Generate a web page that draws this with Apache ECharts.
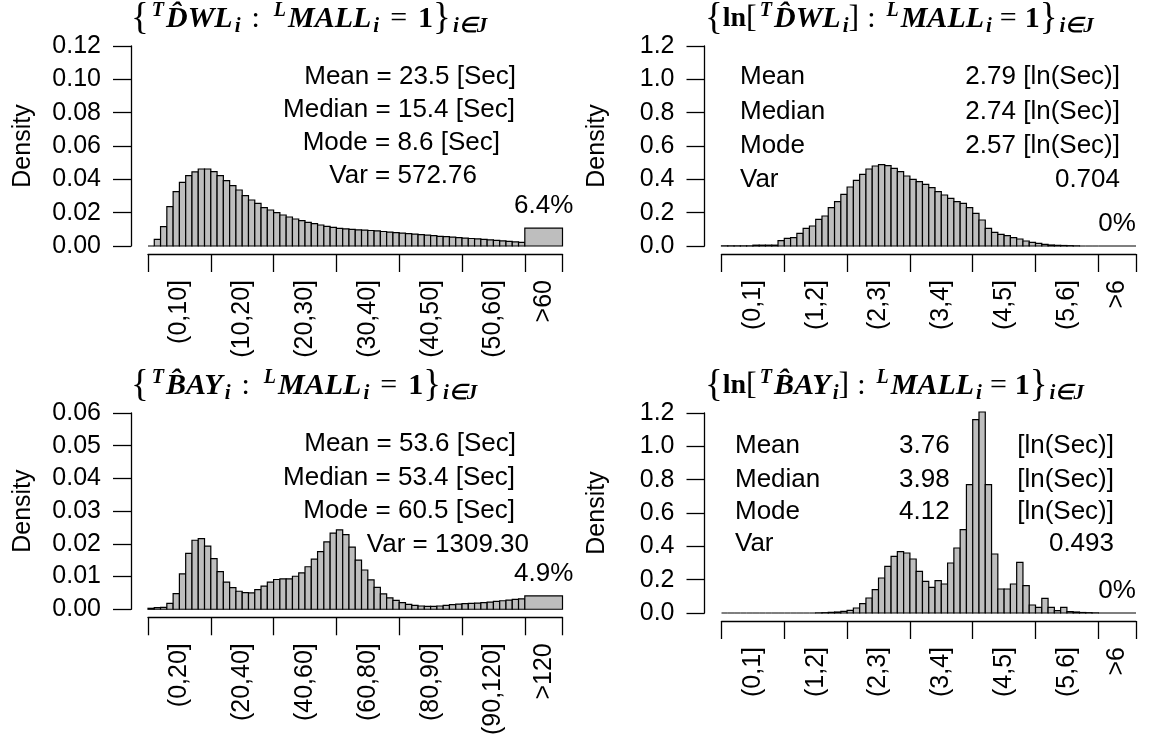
<!DOCTYPE html>
<html>
<head>
<meta charset="utf-8">
<script src="https://cdn.jsdelivr.net/npm/echarts@6/dist/echarts.min.js"></script>
<style>
  html, body { margin: 0; padding: 0; background: #fff; }
  #chart { width: 1149px; height: 738px; }
</style>
</head>
<body>
<div id="chart"></div>
<script>
// ---------- data ----------
// Densities of the 60 regular bins of each histogram (left to right).
const dwlDensity = [
  0.0000, 0.0040, 0.0116, 0.0236, 0.0326, 0.0382, 0.0422, 0.0445, 0.0462, 0.0462,
  0.0446, 0.0422, 0.0392, 0.0362, 0.0336, 0.0302, 0.0276, 0.0256, 0.0230, 0.0216,
  0.0200, 0.0186, 0.0174, 0.0162, 0.0152, 0.0142, 0.0134, 0.0126, 0.0118, 0.0112,
  0.0106, 0.0103, 0.0100, 0.0097, 0.0095, 0.0093, 0.0091, 0.0087, 0.0083, 0.0080,
  0.0077, 0.0074, 0.0071, 0.0068, 0.0065, 0.0062, 0.0058, 0.0056, 0.0053, 0.0050,
  0.0047, 0.0045, 0.0043, 0.0040, 0.0037, 0.0034, 0.0031, 0.0028, 0.0025, 0.0022
];
const dwlOverPct = 6.4;

const lnDwlDensity = [
  0.001, 0.001, 0.001, 0.001, 0.001, 0.005, 0.005, 0.005, 0.005, 0.032,
  0.046, 0.050, 0.076, 0.106, 0.120, 0.160, 0.180, 0.230, 0.266, 0.310,
  0.354, 0.394, 0.430, 0.462, 0.480, 0.488, 0.482, 0.466, 0.446, 0.420,
  0.400, 0.386, 0.370, 0.350, 0.326, 0.306, 0.286, 0.266, 0.256, 0.230,
  0.196, 0.156, 0.106, 0.082, 0.070, 0.062, 0.050, 0.042, 0.030, 0.022,
  0.016, 0.010, 0.006, 0.004, 0.003, 0.002, 0.001, 0.000, 0.000, 0.000
];
const lnDwlOverPct = 0;

const bayDensity = [
  0.0003, 0.0005, 0.0006, 0.0018, 0.0048, 0.0108, 0.0171, 0.0211, 0.0216, 0.0193,
  0.0155, 0.0115, 0.0083, 0.0066, 0.0055, 0.0051, 0.0050, 0.0060, 0.0071, 0.0083,
  0.0091, 0.0093, 0.0093, 0.0101, 0.0111, 0.0130, 0.0153, 0.0176, 0.0206, 0.0233,
  0.0243, 0.0228, 0.0190, 0.0150, 0.0120, 0.0090, 0.0067, 0.0047, 0.0035, 0.0027,
  0.0020, 0.0015, 0.0012, 0.0010, 0.0009, 0.0009, 0.0010, 0.0012, 0.0014, 0.0016,
  0.0017, 0.0018, 0.0019, 0.0020, 0.0022, 0.0024, 0.0026, 0.0028, 0.0030, 0.0032
];
const bayOverPct = 4.9;

const lnBayDensity = [
  0.000, 0.000, 0.000, 0.000, 0.000, 0.000, 0.000, 0.000, 0.000, 0.000,
  0.000, 0.000, 0.000, 0.000, 0.000, 0.001, 0.002, 0.004, 0.006, 0.010,
  0.016, 0.030, 0.056, 0.090, 0.140, 0.210, 0.280, 0.340, 0.368, 0.360,
  0.324, 0.250, 0.190, 0.154, 0.194, 0.174, 0.300, 0.390, 0.500, 0.770,
  1.160, 1.206, 0.770, 0.354, 0.144, 0.144, 0.174, 0.304, 0.164, 0.048,
  0.034, 0.088, 0.034, 0.014, 0.034, 0.008, 0.006, 0.003, 0.002, 0.001
];
const lnBayOverPct = 0;

// Category labels under each x axis.
const dwlTickLabels = ['(0,10]', '(10,20]', '(20,30]', '(30,40]', '(40,50]', '(50,60]', '>60'];
const lnTickLabels  = ['(0,1]', '(1,2]', '(2,3]', '(3,4]', '(4,5]', '(5,6]', '>6'];
const bayTickLabels = ['(0,20]', '(20,40]', '(40,60]', '(60,80]', '(80,90]', '(90,120]', '>120'];

// Summary statistics printed inside the panels.
const dwlStats = ['Mean = 23.5 [Sec]', 'Median = 15.4 [Sec]', 'Mode = 8.6 [Sec]', 'Var = 572.76'];
const bayStats = ['Mean = 53.6 [Sec]', 'Median = 53.4 [Sec]', 'Mode = 60.5 [Sec]', 'Var = 1309.30'];
const statNames = ['Mean', 'Median', 'Mode', 'Var'];
const lnDwlStatValues = ['2.79 [ln(Sec)]', '2.74 [ln(Sec)]', '2.57 [ln(Sec)]', '0.704'];
const lnBayStatNumbers = ['3.76', '3.98', '4.12'];
const lnBayStatUnit = '[ln(Sec)]';
const lnBayVar = '0.493';

// ---------- drawing ----------
const FONT = '"Liberation Sans", Arial, Helvetica, sans-serif';
const SERIF = '"Liberation Serif", "Times New Roman", serif';
const BLACK = '#000';
const r6 = v => Math.round(v * 1e6) / 1e6;

const panels = [
  { density: dwlDensity,   overPct: dwlOverPct,   binWidth: 1,   yMax: 0.12, yStep: 0.02, yDigits: 2, labels: dwlTickLabels, left: 148,   top: 46 },
  { density: lnDwlDensity, overPct: lnDwlOverPct, binWidth: 0.1, yMax: 1.2,  yStep: 0.2,  yDigits: 1, labels: lnTickLabels,  left: 721.5, top: 46 },
  { density: bayDensity,   overPct: bayOverPct,   binWidth: 2,   yMax: 0.06, yStep: 0.01, yDigits: 2, labels: bayTickLabels, left: 148,   top: 413 },
  { density: lnBayDensity, overPct: lnBayOverPct, binWidth: 0.1, yMax: 1.2,  yStep: 0.2,  yDigits: 1, labels: lnTickLabels,  left: 721.5, top: 413 }
];
const PLOT_W = 414.5, PLOT_H = 200;

const grids = [], xAxes = [], yAxes = [], series = [];

panels.forEach((p, i) => {
  const w = p.binWidth;
  const tickVals = [0, 1, 2, 3, 4, 5, 6].map(k => r6(k * 10 * w)).concat([r6(66 * w)]);
  const labelVals = [0, 1, 2, 3, 4, 5].map(k => r6((k + 0.5) * 10 * w)).concat([r6(63 * w)]);

  const data = p.density.map((d, k) => [r6(k * w), r6((k + 1) * w), d]);
  data.push([r6(60 * w), r6(66 * w), p.overPct / 100 / (6 * w)]);

  grids.push({ left: p.left, top: p.top, width: PLOT_W, height: PLOT_H, containLabel: false });

  xAxes.push({
    gridIndex: i, type: 'value', min: 0, max: r6(66 * w), offset: 8,
    axisLine: { show: true, onZero: false, lineStyle: { color: BLACK, width: 1.3 } },
    axisTick: { show: true, length: 18, customValues: tickVals, lineStyle: { color: BLACK, width: 1.3 } },
    axisLabel: {
      show: true, customValues: labelVals, rotate: 90, margin: 26,
      fontSize: 25, color: BLACK, fontFamily: FONT,
      formatter: v => {
        const idx = labelVals.findIndex(q => Math.abs(q - v) < 1e-6);
        return idx >= 0 ? p.labels[idx] : '';
      }
    },
    splitLine: { show: false }
  });

  yAxes.push({
    gridIndex: i, type: 'value', min: 0, max: p.yMax, interval: p.yStep, offset: 17,
    name: 'Density', nameLocation: 'middle', nameGap: 95,
    nameTextStyle: { fontSize: 25, color: BLACK, fontFamily: FONT },
    axisLine: { show: true, onZero: false, lineStyle: { color: BLACK, width: 1.3 } },
    axisTick: { show: true, length: 18, lineStyle: { color: BLACK, width: 1.3 } },
    axisLabel: { margin: 30, fontSize: 25, color: BLACK, fontFamily: FONT, formatter: v => v.toFixed(p.yDigits) },
    splitLine: { show: false }
  });

  series.push({
    type: 'custom', xAxisIndex: i, yAxisIndex: i, clip: false,
    encode: { x: [0, 1], y: 2 },
    data: data,
    renderItem: (params, api) => {
      const x0 = api.value(0), x1 = api.value(1), h = api.value(2);
      const pBase = api.coord([x0, 0]);
      const pTop = api.coord([x1, h]);
      const rect = {
        type: 'rect',
        shape: { x: pBase[0], y: pTop[1], width: pTop[0] - pBase[0], height: pBase[1] - pTop[1] },
        style: { fill: '#BEBEBE', stroke: BLACK, lineWidth: 1.2 }
      };
      if (params.dataIndex !== data.length - 1) return rect;
      return {
        type: 'group',
        children: [rect, {
          type: 'text',
          style: {
            text: p.overPct + '%', x: (pBase[0] + pTop[0]) / 2, y: pTop[1] - 22,
            align: 'center', verticalAlign: 'middle',
            fontSize: 26, fontFamily: FONT, fill: BLACK
          }
        }]
      };
    }
  });
});

// Set-builder titles written with rich text.
const titleRich = {
  m:    { fontFamily: SERIF, fontSize: 30, fontWeight: 'bold', fontStyle: 'italic', fill: BLACK, verticalAlign: 'middle' },
  sup:  { fontFamily: SERIF, fontSize: 20, fontWeight: 'bold', fontStyle: 'italic', fill: BLACK, verticalAlign: 'top', padding: [0, 2, 0, 3] },
  sub:  { fontFamily: SERIF, fontSize: 21, fontWeight: 'bold', fontStyle: 'italic', fill: BLACK, verticalAlign: 'bottom', padding: [0, 0, 0, 2] },
  op:   { fontFamily: SERIF, fontSize: 30, fill: BLACK, verticalAlign: 'middle', padding: [0, 11, 0, 11] },
  opn:  { fontFamily: SERIF, fontSize: 30, fill: BLACK, verticalAlign: 'middle', padding: [0, 8, 0, 8] },
  one:  { fontFamily: SERIF, fontSize: 30, fontWeight: 'bold', fill: BLACK, verticalAlign: 'middle' },
  ln:   { fontFamily: SERIF, fontSize: 28, fontWeight: 'bold', fill: BLACK, verticalAlign: 'middle' },
  bk:   { fontFamily: SERIF, fontSize: 32, fill: BLACK, verticalAlign: 'middle' }
};
function titleText(name, withLn) {
  const inner = '{sup|T}{m|' + name + '}{sub|i}';
  const core = withLn ? '{ln|ln}{bk|[}' + inner + '{bk|]}' : inner;
  const op = withLn ? 'opn' : 'op';
  return '{' + core + '{' + op + '|:}{sup|L}{m|MALL}{sub|i}{' + op + '|=}{one|1}}{sub|i\u2208J}';
}
function title(x, y, textStr) {
  return {
    type: 'text', x: x, y: y, silent: true,
    style: {
      text: textStr, rich: titleRich, align: 'left', verticalAlign: 'middle',
      fontFamily: SERIF, fontSize: 37, fill: BLACK
    }
  };
}
function label(x, y, str, align) {
  return {
    type: 'text', x: x, y: y, silent: true,
    style: { text: str, align: align, verticalAlign: 'middle', fontSize: 26, fontFamily: FONT, fill: BLACK }
  };
}

const graphics = [
  title(131, 19, titleText('D\u0302WL', false)),
  title(705, 19, titleText('D\u0302WL', true)),
  title(131, 386, titleText('B\u0302AY', false)),
  title(705, 386, titleText('B\u0302AY', true))
];

// Top-left panel statistics
const dwlRight = [516, 515, 500, 477];
const row1Y = [77, 110, 143, 176];
dwlStats.forEach((s, k) => graphics.push(label(dwlRight[k], row1Y[k], s, 'right')));
// Bottom-left panel statistics
const bayRight = [516, 515, 515, 529];
const row2Y = [444, 478, 511, 545];
bayStats.forEach((s, k) => graphics.push(label(bayRight[k], row2Y[k], s, 'right')));
// Top-right panel statistics
statNames.forEach((s, k) => {
  graphics.push(label(740, [77, 112, 146, 180][k], s, 'left'));
  graphics.push(label(1120, [77, 112, 146, 180][k], lnDwlStatValues[k], 'right'));
});
// Bottom-right panel statistics
const row4Y = [446, 480, 512, 544];
statNames.forEach((s, k) => graphics.push(label(735, row4Y[k], s, 'left')));
lnBayStatNumbers.forEach((s, k) => {
  graphics.push(label(899, row4Y[k], s, 'left'));
  graphics.push(label(1114, row4Y[k], lnBayStatUnit, 'right'));
});
graphics.push(label(1114, row4Y[3], lnBayVar, 'right'));

const chart = echarts.init(document.getElementById('chart'), null, { renderer: 'canvas' });
chart.setOption({
  backgroundColor: '#fff',
  animation: false,
  grid: grids,
  xAxis: xAxes,
  yAxis: yAxes,
  series: series,
  graphic: graphics
});
</script>
</body>
</html>
